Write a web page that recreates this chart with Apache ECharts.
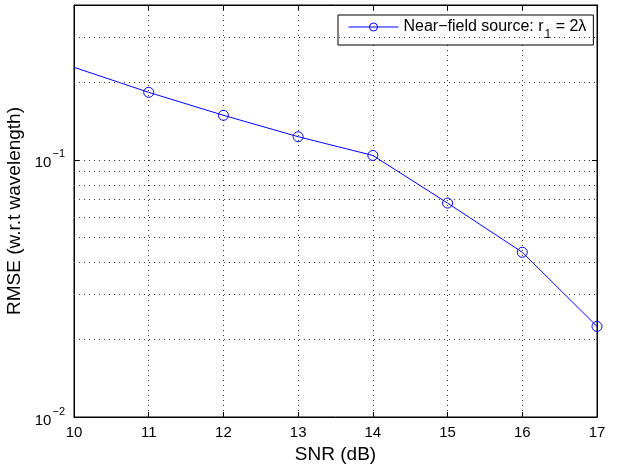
<!DOCTYPE html>
<html>
<head>
<meta charset="utf-8">
<script src="https://cdn.jsdelivr.net/npm/echarts@6/dist/echarts.min.js"></script>
<style>
  html, body { margin: 0; padding: 0; background: #fff; }
  #chart { width: 618px; height: 466px; }
</style>
</head>
<body>
<div id="chart"></div>
<script>
// values
var snr = [10, 11, 12, 13, 14, 15, 16, 17]
var rmse = [0.229, 0.183, 0.149, 0.123, 0.104, 0.0679, 0.0437, 0.0225]
var seriesName = 'Near\u2212field source: r1 = 2\u03bb'
// minor log grid lines (2..9 of each decade)
var minorGrid = [0.02, 0.03, 0.04, 0.05, 0.06, 0.07, 0.08, 0.09, 0.2, 0.3]

var font = '"Liberation Sans", Arial, Helvetica, sans-serif'
var dotted = { color: '#333', width: 1, type: [1, 4] }

var chart = echarts.init(document.getElementById('chart'))

// first point (x=10) is drawn without a marker in the original
var points = snr.map(function (x, i) {
  var item = { value: [x, rmse[i]] }
  if (i === 0) item.symbol = 'none'
  return item
})

function powLabel(v) {
  var l = Math.log(v) / Math.LN10
  var e = Math.round(l)
  if (Math.abs(l - e) > 1e-6) return ''
  return '{b|10}{e|' + (e < 0 ? '\u2212' + (-e) : e) + '}'
}

chart.setOption({
  animation: false,
  textStyle: { fontFamily: font },
  grid: {
    left: 74, right: 21, top: 5, bottom: 49,
    containLabel: false,
    outerBoundsMode: 'none',
    show: true, borderColor: '#000', borderWidth: 1
  },
  legend: {
    left: 338, top: 15,
    padding: [4, 7, 4, 10],
    borderColor: '#000', borderWidth: 1, borderRadius: 0,
    backgroundColor: '#fff',
    itemWidth: 50, itemHeight: 10,
    data: [seriesName],
    lineStyle: { width: 1 },
    itemStyle: { borderWidth: 1 },
    formatter: function () {
      return '{a|Near\u2212field source: r}{s|1}{a| = 2\u03bb}'
    },
    textStyle: {
      color: '#000',
      rich: {
        a: { fontSize: 16, fontFamily: font, color: '#000', lineHeight: 18, verticalAlign: 'middle' },
        s: { fontSize: 12, fontFamily: font, color: '#000', lineHeight: 28, verticalAlign: 'bottom', padding: [0, 0, 0, 1] }
      }
    }
  },
  xAxis: [{
    type: 'value',
    min: 10, max: 17, interval: 1,
    name: 'SNR (dB)',
    nameLocation: 'middle',
    nameGap: 25,
    nameTextStyle: { fontSize: 19, color: '#000', fontFamily: font },
    axisLine: { lineStyle: { color: '#000' } },
    axisTick: { inside: true, length: 5, lineStyle: { color: '#000' } },
    axisLabel: { fontSize: 15, color: '#000', margin: 8 },
    splitLine: { show: true, lineStyle: dotted }
  }, {
    type: 'value',
    position: 'top',
    min: 10, max: 17, interval: 1,
    axisLine: { lineStyle: { color: '#000' } },
    axisTick: { inside: true, length: 5, lineStyle: { color: '#000' } },
    axisLabel: { show: false },
    splitLine: { show: false }
  }],
  yAxis: [{
    type: 'log',
    logBase: 10,
    min: 0.01, max: 0.4,
    name: 'RMSE (w.r.t wavelength)',
    nameLocation: 'middle',
    nameGap: 42,
    nameTextStyle: { fontSize: 19, color: '#000', fontFamily: font },
    axisLine: { lineStyle: { color: '#000' } },
    axisTick: { inside: true, length: 5, lineStyle: { color: '#000' } },
    axisLabel: {
      margin: 9,
      showMaxLabel: false,
      formatter: powLabel,
      rich: {
        b: { fontSize: 15, fontFamily: font, color: '#000', lineHeight: 22, verticalAlign: 'bottom' },
        e: { fontSize: 11, fontFamily: font, color: '#000', lineHeight: 14, verticalAlign: 'top', padding: [0, 0, 0, 1] }
      }
    },
    splitLine: { show: true, lineStyle: dotted }
  }, {
    type: 'log',
    logBase: 10,
    min: 0.01, max: 0.4,
    position: 'right',
    axisLine: { lineStyle: { color: '#000' } },
    axisTick: { inside: true, length: 5, lineStyle: { color: '#000' } },
    axisLabel: { show: false },
    splitLine: { show: false }
  }],
  series: [{
    name: seriesName,
    type: 'line',
    data: points,
    symbol: 'circle',
    symbolSize: 10,
    showAllSymbol: true,
    color: '#0000ff',
    lineStyle: { color: '#0000ff', width: 1 },
    itemStyle: { color: 'rgba(0,0,0,0)', borderColor: '#0000ff', borderWidth: 1 },
    emphasis: { disabled: true },
    markLine: {
      silent: true,
      symbol: 'none',
      label: { show: false },
      lineStyle: dotted,
      emphasis: { disabled: true },
      data: minorGrid.map(function (v) { return { yAxis: v } })
    }
  }]
})
</script>
</body>
</html>
